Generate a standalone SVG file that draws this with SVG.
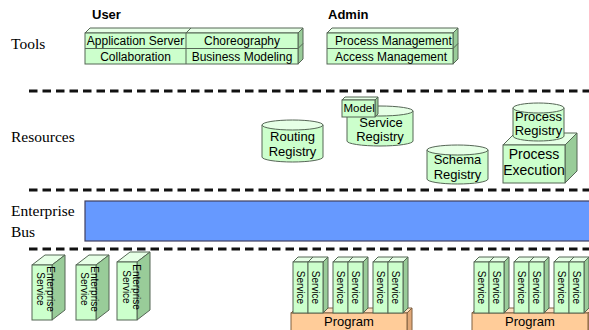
<svg xmlns="http://www.w3.org/2000/svg" width="589" height="330" viewBox="0 0 589 330">
<style>
.bg{fill:#ffffff}
.f{fill:#ccffcc;stroke:#556655;stroke-width:1}
.t{fill:#e6ffe6;stroke:#556655;stroke-width:1}
.s{fill:#99cc99;stroke:#556655;stroke-width:1}
.ln{stroke:#556655;stroke-width:1;fill:none}
.pf{fill:#ffcc99;stroke:#806040;stroke-width:1}
.pt{fill:#ffe0c0;stroke:#806040;stroke-width:1}
.ps{fill:#e0a878;stroke:#806040;stroke-width:1}
.sep{stroke:#111;stroke-width:3;stroke-dasharray:8.5 5;fill:none}
.lay{font-family:"Liberation Serif","Times New Roman",serif;font-size:15.5px;fill:#000}
.hd{font-family:"Liberation Sans",Arial,sans-serif;font-size:13px;font-weight:bold;fill:#000}
.lb{font-family:"Liberation Sans",Arial,sans-serif;font-size:12px;fill:#000}
.lc{font-family:"Liberation Sans",Arial,sans-serif;font-size:12px;fill:#000;text-anchor:middle}
.rc{font-family:"Liberation Sans",Arial,sans-serif;font-size:13px;fill:#000;text-anchor:middle}
.pe{font-family:"Liberation Sans",Arial,sans-serif;font-size:14px;fill:#000;text-anchor:middle}
.vt{font-family:"Liberation Sans",Arial,sans-serif;font-size:10px;fill:#000;text-anchor:middle}
</style>
<rect class="bg" x="0" y="0" width="589" height="330"/>

<g id="layer-labels">
<text class="lay" x="11" y="49">Tools</text>
<text class="lay" x="11" y="142">Resources</text>
<text class="lay" x="11" y="216">Enterprise</text>
<text class="lay" x="11" y="237">Bus</text>
<text class="hd" x="92" y="19">User</text>
<text class="hd" x="328" y="19">Admin</text>
</g>

<g id="separators">
<line class="sep" x1="29" y1="91" x2="589" y2="91"/>
<line class="sep" x1="29" y1="190" x2="589" y2="190"/>
<line class="sep" x1="29" y1="249" x2="589" y2="249"/>
</g>

<g id="user-tools">
<polygon class="t" points="85,33 90,28 303,28 298,33"/>
<polygon class="s" points="298,33 303,28 303,59 298,64"/>
<rect class="f" x="85" y="33" width="213" height="31"/>
<line class="ln" x1="186" y1="33" x2="186" y2="64"/>
<line class="ln" x1="186" y1="33" x2="191" y2="28"/>
<line class="ln" x1="85" y1="48.5" x2="298" y2="48.5"/>
<line class="ln" x1="298" y1="48.5" x2="303" y2="43.5"/>
<text class="lc" x="135.5" y="45">Application Server</text>
<text class="lc" x="242" y="45">Choreography</text>
<text class="lc" x="135.5" y="61">Collaboration</text>
<text class="lc" x="242" y="61">Business Modeling</text>
</g>

<g id="admin-tools">
<polygon class="t" points="327,33 332,28 458,28 453,33"/>
<polygon class="s" points="453,33 458,28 458,59 453,64"/>
<rect class="f" x="327" y="33" width="126" height="31"/>
<line class="ln" x1="327" y1="48.5" x2="453" y2="48.5"/>
<line class="ln" x1="453" y1="48.5" x2="458" y2="43.5"/>
<text class="lb" x="335" y="45">Process Management</text>
<text class="lb" x="335" y="61">Access Management</text>
</g>

<g id="routing-registry">
<path class="f" d="M262,125 V157 A30.5,5 0 0 0 323,157 V125 Z"/>
<ellipse class="t" cx="292.5" cy="125" rx="30.5" ry="5"/>
<text class="rc" x="292.5" y="141">Routing</text>
<text class="rc" x="292.5" y="156">Registry</text>
</g>

<g id="service-registry">
<path class="f" d="M347,111 V141 A33,5 0 0 0 413,141 V111 Z"/>
<ellipse class="t" cx="380" cy="111" rx="33" ry="5"/>
<text class="rc" x="381" y="127">Service</text>
<text class="rc" x="380" y="141">Registry</text>
</g>

<g id="model">
<polygon class="t" points="342,100 345,97 378,97 375,100"/>
<polygon class="s" points="375,100 378,97 378,114 375,117"/>
<rect class="f" x="342" y="100" width="33" height="17"/>
<text class="lb" x="343.5" y="112" style="font-size:11.5px">Model</text>
</g>

<g id="schema-registry">
<path class="f" d="M427,150 V179 A30.5,5 0 0 0 488,179 V150 Z"/>
<ellipse class="t" cx="457.5" cy="150" rx="30.5" ry="5"/>
<text class="rc" x="457.5" y="164">Schema</text>
<text class="rc" x="457.5" y="179">Registry</text>
</g>

<g id="process-execution">
<polygon class="t" points="503,145 515,133 577,133 565,145"/>
<polygon class="s" points="565,145 577,133 577,171 565,183"/>
<rect class="f" x="503" y="145" width="62" height="38"/>
<text class="pe" x="534" y="159">Process</text>
<text class="pe" x="534" y="175">Execution</text>
</g>

<g id="process-registry">
<path class="f" d="M513,108 V136 A25.5,5 0 0 0 564,136 V108 Z"/>
<ellipse class="t" cx="538.5" cy="108" rx="25.5" ry="5"/>
<text class="rc" x="538.5" y="121">Process</text>
<text class="rc" x="538.5" y="135">Registry</text>
</g>

<g id="enterprise-bus">
<rect x="85" y="201" width="506" height="40" fill="#6699ff" stroke="#404060" stroke-width="1.2"/>
</g>

<g id="enterprise-service-1">
<polygon class="t" points="32,265 45,255 65,255 52,265"/>
<polygon class="s" points="52,265 65,255 65,310 52,320"/>
<rect class="f" x="32" y="265" width="20" height="55"/>
<text class="vt" transform="translate(47,289) rotate(90)">Enterprise</text>
<text class="vt" transform="translate(37,289) rotate(90)">Service</text>
</g>
<g id="enterprise-service-2">
<polygon class="t" points="76,265 89,255 109,255 96,265"/>
<polygon class="s" points="96,265 109,255 109,310 96,320"/>
<rect class="f" x="76" y="265" width="20" height="55"/>
<text class="vt" transform="translate(91,289) rotate(90)">Enterprise</text>
<text class="vt" transform="translate(81,289) rotate(90)">Service</text>
</g>
<g id="enterprise-service-3">
<polygon class="t" points="117,262 130,252 150,252 137,262"/>
<polygon class="s" points="137,262 150,252 150,310 137,320"/>
<rect class="f" x="117" y="262" width="20" height="58"/>
<text class="vt" transform="translate(133,287) rotate(90)">Enterprise</text>
<text class="vt" transform="translate(123,287) rotate(90)">Service</text>
</g>

<g id="program-1">
<polygon class="pt" points="291,313 296,308 412,308 407,313"/>
<polygon class="ps" points="407,313 412,308 412,331 407,331"/>
<rect class="pf" x="291" y="313" width="116" height="20"/>
<text class="rc" x="349" y="326">Program</text>
</g>

<g id="services-1">
<g id="svc-1a">
<polygon class="t" points="293,262 298,257 313,257 308,262"/><polygon class="s" points="308,262 313,257 313,308 308,313"/><rect class="f" x="293" y="262" width="15" height="51"/>
<text class="vt" transform="translate(297,287.5) rotate(90)">Service</text></g>
<g id="svc-1b">
<polygon class="t" points="308,262 313,257 328,257 323,262"/><polygon class="s" points="323,262 328,257 328,308 323,313"/><rect class="f" x="308" y="262" width="15" height="51"/>
<text class="vt" transform="translate(312,287.5) rotate(90)">Service</text></g>
<g id="svc-1c">
<polygon class="t" points="333,262 338,257 353,257 348,262"/><polygon class="s" points="348,262 353,257 353,308 348,313"/><rect class="f" x="333" y="262" width="15" height="51"/>
<text class="vt" transform="translate(337,287.5) rotate(90)">Service</text></g>
<g id="svc-1d">
<polygon class="t" points="348,262 353,257 368,257 363,262"/><polygon class="s" points="363,262 368,257 368,308 363,313"/><rect class="f" x="348" y="262" width="15" height="51"/>
<text class="vt" transform="translate(352,287.5) rotate(90)">Service</text></g>
<g id="svc-1e">
<polygon class="t" points="373,262 378,257 393,257 388,262"/><polygon class="s" points="388,262 393,257 393,308 388,313"/><rect class="f" x="373" y="262" width="15" height="51"/>
<text class="vt" transform="translate(377,287.5) rotate(90)">Service</text></g>
<g id="svc-1f">
<polygon class="t" points="388,262 393,257 408,257 403,262"/><polygon class="s" points="403,262 408,257 408,308 403,313"/><rect class="f" x="388" y="262" width="15" height="51"/>
<text class="vt" transform="translate(392,287.5) rotate(90)">Service</text></g>
</g>

<g id="program-2">
<polygon class="pt" points="472,313 477,308 593,308 588,313"/>
<polygon class="ps" points="588,313 593,308 593,331 588,331"/>
<rect class="pf" x="472" y="313" width="116" height="20"/>
<text class="rc" x="530" y="326">Program</text>
</g>

<g id="services-2">
<g id="svc-2a">
<polygon class="t" points="474,262 479,257 494,257 489,262"/><polygon class="s" points="489,262 494,257 494,308 489,313"/><rect class="f" x="474" y="262" width="15" height="51"/>
<text class="vt" transform="translate(478,287.5) rotate(90)">Service</text></g>
<g id="svc-2b">
<polygon class="t" points="489,262 494,257 509,257 504,262"/><polygon class="s" points="504,262 509,257 509,308 504,313"/><rect class="f" x="489" y="262" width="15" height="51"/>
<text class="vt" transform="translate(493,287.5) rotate(90)">Service</text></g>
<g id="svc-2c">
<polygon class="t" points="514,262 519,257 534,257 529,262"/><polygon class="s" points="529,262 534,257 534,308 529,313"/><rect class="f" x="514" y="262" width="15" height="51"/>
<text class="vt" transform="translate(518,287.5) rotate(90)">Service</text></g>
<g id="svc-2d">
<polygon class="t" points="529,262 534,257 549,257 544,262"/><polygon class="s" points="544,262 549,257 549,308 544,313"/><rect class="f" x="529" y="262" width="15" height="51"/>
<text class="vt" transform="translate(533,287.5) rotate(90)">Service</text></g>
<g id="svc-2e">
<polygon class="t" points="554,262 559,257 574,257 569,262"/><polygon class="s" points="569,262 574,257 574,308 569,313"/><rect class="f" x="554" y="262" width="15" height="51"/>
<text class="vt" transform="translate(558,287.5) rotate(90)">Service</text></g>
<g id="svc-2f">
<polygon class="t" points="569,262 574,257 589,257 584,262"/><polygon class="s" points="584,262 589,257 589,308 584,313"/><rect class="f" x="569" y="262" width="15" height="51"/>
<text class="vt" transform="translate(573,287.5) rotate(90)">Service</text></g>
</g>
</svg>
